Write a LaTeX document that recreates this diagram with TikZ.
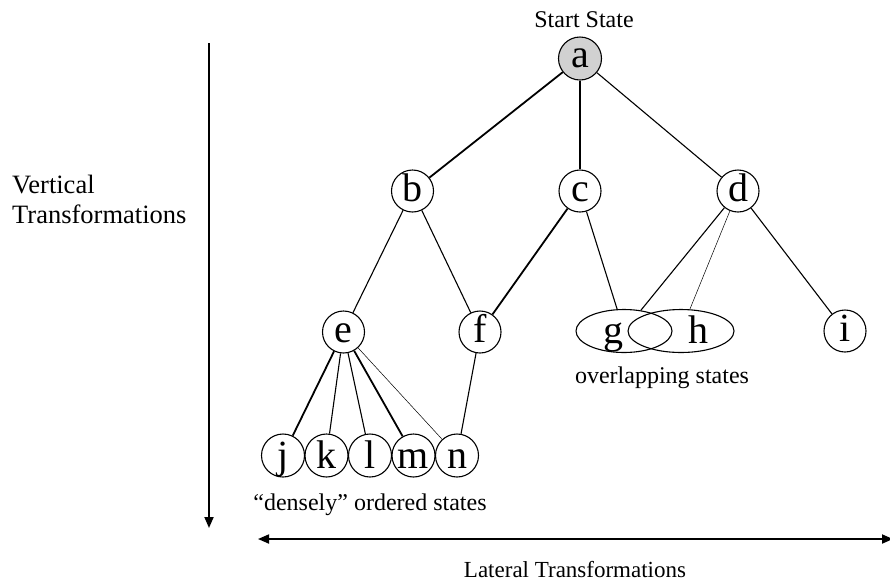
\documentclass[tikz,border=0pt]{standalone}
\usepackage{fontspec}
\setmainfont{Liberation Serif}
\usetikzlibrary{shapes.geometric,arrows.meta}
\begin{document}
\begin{tikzpicture}[x=1pt,y=-1pt,
  state/.style={circle,draw,line width=1.1pt,minimum size=42pt,inner sep=0pt,
    font=\fontsize{40}{40}\selectfont,text height=20pt,text depth=0pt},
  low/.style={text height=26pt},
  ovl/.style={ellipse,draw,line width=1.1pt,minimum width=96pt,minimum height=43pt,inner sep=0pt},
  letter/.style={font=\fontsize{40}{40}\selectfont,anchor=base,inner sep=0pt},
  lbl/.style={font=\fontsize{24}{24}\selectfont,anchor=base,inner sep=0pt},
  big/.style={font=\fontsize{26.5}{30}\selectfont,inner sep=0pt},
  edge/.style={line width=1.1pt},
  thick edge/.style={line width=1.8pt},
  thin edge/.style={line width=0.5pt},
  axis/.style={line width=1.8pt}
]
\useasboundingbox (0,0) rectangle (890,582);

\node[lbl] (start) at (584,27) {Start State};
\node[state,fill=black!18,minimum size=43pt,text height=17pt] (a) at (580,58.5) {a};
\node[state] (b) at (412.5,191) {b};
\node[state] (c) at (580,191) {c};
\node[state] (d) at (738,191) {d};
\node[state] (e) at (343.5,332) {e};
\node[state] (f) at (480,332) {f};
\node[ovl] (g) at (624,331) {};
\node[ovl,minimum width=106pt] (h) at (681,331) {};
\node[letter] (gl) at (613,343) {g};
\node[letter] (hl) at (698,343) {h};
\node[state] (i) at (845,331) {i};
\node[state,low,minimum size=43pt] (j) at (283,455.5) {j};
\node[state,low,minimum size=43pt] (k) at (326.5,455.5) {k};
\node[state,low,minimum size=43pt] (l) at (370,455.5) {l};
\node[state,low,minimum size=43pt] (m) at (413.5,455.5) {m};
\node[state,low,minimum size=43pt] (n) at (457,455.5) {n};

\node[lbl] (ovltxt) at (662,383) {overlapping states};
\node[lbl] (dens) at (370,510) {``densely'' ordered states};

\draw[thick edge] (a) -- (b);
\draw[edge] (a) -- (c);
\draw[edge] (a) -- (d);
\draw[edge] (b) -- (e);
\draw[edge] (b) -- (f);
\draw[thick edge] (c) -- (f);
\draw[edge] (c) -- (g);
\draw[edge] (d) -- (g);
\draw[thin edge] (d) -- (h);
\draw[edge] (d) -- (i);
\draw[thick edge] (e) -- (j);
\draw[edge] (e) -- (k);
\draw[edge] (e) -- (l);
\draw[thick edge] (e) -- (m);
\draw[thin edge] (e) -- (n);
\draw[edge] (f) -- (n);

\coordinate (vtop) at (209,43);
\coordinate (vbot) at (209,528);
\draw[axis,-{Triangle[length=11pt,width=9pt]}] (vtop) -- (vbot);
\node[big,anchor=base west] (vtxt1) at (12,193) {Vertical};
\node[big,anchor=base west] (vtxt2) at (12,223) {Transformations};

\coordinate (hl0) at (258,539);
\coordinate (hr0) at (893,539);
\draw[axis,{Triangle[length=11pt,width=9pt]}-{Triangle[length=11pt,width=9pt]}] (hl0) -- (hr0);
\node[font=\fontsize{23}{23}\selectfont,inner sep=0pt,anchor=base] (htxt) at (575,577) {Lateral Transformations};
\end{tikzpicture}
\end{document}
